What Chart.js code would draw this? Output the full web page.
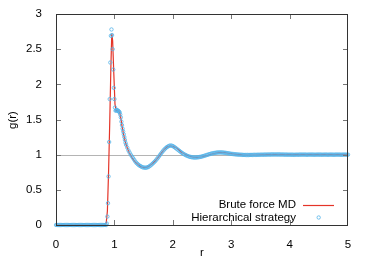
<!DOCTYPE html>
<html>
<head>
<meta charset="utf-8">
<script src="https://cdn.jsdelivr.net/npm/chart.js@4"></script>
<style>html,body{margin:0;padding:0;background:#fff}</style>
</head>
<body>
<canvas id="grChart" width="374" height="262"></canvas>
<script>
// Radial distribution function g(r): brute force MD vs hierarchical strategy

const FONT = "'Liberation Sans', Arial, sans-serif";

// Brute force MD (red line)
const rBrute = [0, 0.84, 0.86, 0.88, 0.90, 0.92, 0.94, 0.955, 0.97, 0.99, 1.01, 1.03, 1.05, 1.07, 1.09,
    1.11, 1.13, 1.15, 1.17, 1.20, 1.25, 1.30, 1.35, 1.40, 1.45, 1.50, 1.55, 1.60, 1.65, 1.70, 1.75,
    1.80, 1.85, 1.90, 1.95, 2.00, 2.05, 2.10, 2.15, 2.20, 2.25, 2.30, 2.35, 2.40, 2.45, 2.50, 2.55,
    2.60, 2.65, 2.70, 2.75, 2.80, 2.85, 2.90, 2.95, 3.00, 3.10, 3.20, 3.30, 3.40, 3.50, 3.60, 3.80,
    4.00, 4.20, 4.50, 5.00];
const gBrute = [0, 0, 0.03, 0.2, 0.75, 1.45, 2.25, 2.72, 2.62, 2.15, 1.72, 1.62, 1.63, 1.62, 1.60,
    1.52, 1.41, 1.32, 1.24, 1.14, 1.03, 0.96, 0.90, 0.86, 0.83, 0.815, 0.82, 0.84, 0.87, 0.91, 0.96,
    1.02, 1.07, 1.11, 1.125, 1.12, 1.10, 1.07, 1.035, 1.01, 0.99, 0.975, 0.965, 0.962, 0.965, 0.97, 0.98,
    0.99, 1.005, 1.015, 1.025, 1.03, 1.03, 1.028, 1.02, 1.015, 1.005, 0.998, 0.995, 0.995, 0.998, 1.0, 1.002,
    1.0, 1.0, 1.0, 1.0];

// Hierarchical strategy (open circles)
// r = 0.00 .. 0.86, step 0.02
const gHierLow = [0, 0, 0, 0, 0, 0, 0, 0, 0, 0, 0, 0, 0, 0, 0, 0, 0, 0, 0, 0, 0, 0,
    0, 0, 0, 0, 0, 0, 0, 0, 0, 0, 0, 0, 0, 0, 0, 0, 0, 0, 0, 0, 0, 0];
// first peak, finer sampling
const rHierPeak = [0.87, 0.88, 0.89, 0.90, 0.91, 0.92, 0.93, 0.94, 0.95, 0.96, 0.97, 0.98, 0.99, 1.00,
    1.01, 1.02, 1.03, 1.04, 1.05, 1.06, 1.07, 1.08, 1.09, 1.10, 1.11, 1.12, 1.13, 1.14, 1.15, 1.16,
    1.17, 1.18, 1.19, 1.20];
const gHierPeak = [0.02, 0.12, 0.31, 0.69, 1.18, 1.79, 2.31, 2.69, 2.78, 2.70, 2.50, 2.21, 1.95, 1.79,
    1.67, 1.625, 1.63, 1.635, 1.63, 1.625, 1.62, 1.61, 1.60, 1.57, 1.53, 1.47, 1.42, 1.37, 1.33, 1.29,
    1.25, 1.21, 1.17, 1.14];
// r = 1.22 .. 5.00, step 0.02
const gHierTail = [
    1.10, 1.06, 1.03, 1.00, 0.975, 0.95, 0.925, 0.90, 0.88, 0.865,
    0.85, 0.84, 0.83, 0.822, 0.817, 0.815, 0.815, 0.818, 0.825, 0.835,
    0.848, 0.862, 0.877, 0.893, 0.91, 0.93, 0.95, 0.972, 0.995, 1.018,
    1.04, 1.06, 1.078, 1.094, 1.108, 1.118, 1.126, 1.13, 1.128, 1.122,
    1.112, 1.10, 1.088, 1.075, 1.062, 1.049, 1.036, 1.024, 1.013, 1.003,
    0.994, 0.986, 0.979, 0.973, 0.968, 0.965, 0.962, 0.96, 0.96, 0.96,
    0.962, 0.964, 0.967, 0.97, 0.974, 0.979, 0.984, 0.989, 0.995, 1.0,
    1.005, 1.01, 1.015, 1.019, 1.022, 1.025, 1.028, 1.03, 1.031, 1.032,
    1.032, 1.031, 1.03, 1.028, 1.026, 1.023, 1.02, 1.018, 1.015, 1.012,
    1.01, 1.008, 1.006, 1.004, 1.003, 1.001, 1.0, 0.999, 0.998, 0.997,
    0.996, 0.996, 0.995, 0.996, 0.995, 0.996, 0.997, 0.996, 0.997, 0.998,
    0.997, 0.998, 0.999, 0.998, 0.999, 1.0, 0.999, 1.0, 1.001, 1.0,
    1.001, 1.002, 1.001, 1.002, 1.003, 1.002, 1.003, 1.002, 1.003, 1.002,
    1.003, 1.002, 1.001, 1.002, 1.001, 1.0, 1.001, 1.0, 0.999, 1.0,
    0.999, 1.0, 0.999, 0.998, 0.999, 1.0, 0.999, 1.0, 1.001, 1.0,
    1.001, 1.0, 1.001, 1.0, 0.999, 1.0, 1.001, 1.0, 1.001, 1.0,
    1.0, 0.999, 1.0, 1.001, 1.0, 1.001, 1.0, 0.999, 1.0, 1.0,
    1.001, 1.0, 0.999, 1.0, 1.001, 1.0, 1.0, 0.999, 1.0, 1.001,
    1.0, 1.001, 1.0, 0.999, 1.0, 1.0, 1.001, 1.0, 0.999, 1.0];

const xTicks = [0, 1, 2, 3, 4, 5];
const yTicks = [0, 0.5, 1, 1.5, 2, 2.5, 3];
const seriesNames = ['Brute force MD', 'Hierarchical strategy'];

const RED = 'rgb(228, 52, 40)';
const BLUE = 'rgba(86, 180, 233, 0.9)';

const brutePts = rBrute.map((r, i) => ({ x: r, y: gBrute[i] }));
const hierPts = []
    .concat(gHierLow.map((g, i) => ({ x: +(i * 0.02).toFixed(2), y: g })))
    .concat(rHierPeak.map((r, i) => ({ x: r, y: gHierPeak[i] })))
    .concat(gHierTail.map((g, i) => ({ x: +(1.22 + i * 0.02).toFixed(2), y: g })));

// gnuplot-like frame, inward ticks, y=1 reference line, axis titles and key
const gnuplotDecor = {
    id: 'gnuplotDecor',
    beforeDatasetsDraw(chart) {
        const { ctx, chartArea: a, scales } = chart;
        const y1 = Math.round(scales.y.getPixelForValue(1)) + 0.5;
        ctx.save();
        ctx.strokeStyle = '#b4b4b4';
        ctx.lineWidth = 1;
        ctx.beginPath();
        ctx.moveTo(a.left, y1);
        ctx.lineTo(a.right, y1);
        ctx.stroke();
        ctx.restore();
    },
    afterDatasetsDraw(chart) {
        const { ctx, chartArea: a, scales } = chart;
        ctx.save();
        // ticks
        ctx.strokeStyle = '#777';
        ctx.lineWidth = 1;
        ctx.beginPath();
        xTicks.slice(1, -1).forEach(v => {
            const x = Math.round(scales.x.getPixelForValue(v)) + 0.5;
            ctx.moveTo(x, a.bottom); ctx.lineTo(x, a.bottom - 5);
            ctx.moveTo(x, a.top); ctx.lineTo(x, a.top + 5);
        });
        yTicks.slice(1, -1).forEach(v => {
            const y = Math.round(scales.y.getPixelForValue(v)) + 0.5;
            ctx.moveTo(a.left, y); ctx.lineTo(a.left + 5, y);
            ctx.moveTo(a.right, y); ctx.lineTo(a.right - 5, y);
        });
        ctx.stroke();
        // border
        ctx.strokeStyle = '#333';
        ctx.strokeRect(a.left + 0.5, a.top + 0.5, a.right - a.left - 1, a.bottom - a.top);

        // axis titles
        ctx.fillStyle = '#000';
        ctx.font = '11.5px ' + FONT;
        ctx.textAlign = 'center';
        ctx.textBaseline = 'middle';
        ctx.fillText('r', 202, 253);
        ctx.save();
        ctx.translate(12.5, 120);
        ctx.rotate(-Math.PI / 2);
        ctx.fillText('g(r)', 0, 0);
        ctx.restore();

        // key
        ctx.textAlign = 'right';
        ctx.fillText(seriesNames[0], 296, 205);
        ctx.fillText(seriesNames[1], 296, 217.5);
        ctx.strokeStyle = RED;
        ctx.lineWidth = 1.2;
        ctx.beginPath();
        ctx.moveTo(303, 205.5);
        ctx.lineTo(334, 205.5);
        ctx.stroke();
        ctx.strokeStyle = BLUE;
        ctx.lineWidth = 0.9;
        ctx.beginPath();
        ctx.arc(318.7, 217.5, 1.7, 0, Math.PI * 2);
        ctx.stroke();
        ctx.restore();
    }
};

new Chart(document.getElementById('grChart'), {
    type: 'scatter',
    data: {
        datasets: [
            {
                label: seriesNames[1],
                data: hierPts,
                showLine: false,
                pointStyle: 'circle',
                pointRadius: 1.7,
                pointBorderWidth: 0.9,
                pointBorderColor: BLUE,
                pointBackgroundColor: 'rgba(0,0,0,0)',
                clip: 4,
                order: 0
            },
            {
                label: seriesNames[0],
                data: brutePts,
                showLine: true,
                borderColor: RED,
                borderWidth: 1.2,
                pointRadius: 0,
                tension: 0,
                order: 1
            }
        ]
    },
    plugins: [gnuplotDecor],
    options: {
        responsive: false,
        animation: false,
        devicePixelRatio: 1,
        layout: { padding: { left: 0, right: 26, top: 14, bottom: 0 } },
        plugins: {
            legend: { display: false },
            tooltip: { enabled: false }
        },
        scales: {
            x: {
                type: 'linear',
                min: 0,
                max: 5,
                afterBuildTicks: s => { s.ticks = xTicks.map(v => ({ value: v })); },
                afterFit: s => { s.height = 37; },
                ticks: {
                    color: '#000', font: { family: FONT, size: 11.5 }, padding: 5, maxRotation: 0,
                    callback: v => String(v)
                },
                grid: { display: false },
                border: { display: false }
            },
            y: {
                min: 0,
                max: 3,
                afterBuildTicks: s => { s.ticks = yTicks.map(v => ({ value: v })); },
                afterFit: s => { s.width = 56; },
                ticks: {
                    color: '#000', font: { family: FONT, size: 11.5 }, padding: 6,
                    callback: v => String(v)
                },
                grid: { display: false },
                border: { display: false }
            }
        }
    }
});
</script>
</body>
</html>
